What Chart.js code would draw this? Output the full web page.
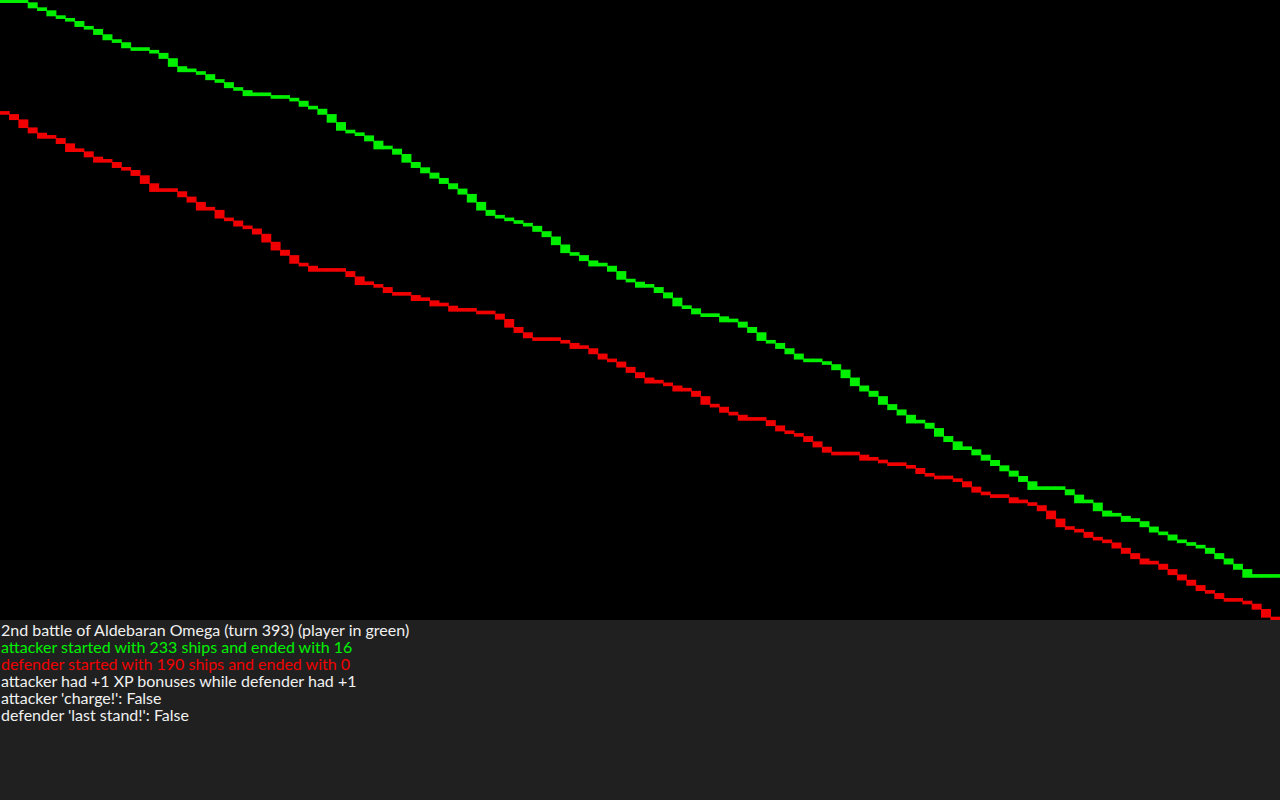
<!DOCTYPE html>
<html>
<head>
<meta charset="utf-8">
<script src="https://cdn.jsdelivr.net/npm/chart.js@4"></script>
<style>
  body { margin: 0; background: #000; width: 1280px; height: 800px; overflow: hidden; }
  #chartBox { width: 1280px; height: 620px; background: #000; }
  #info { width: 1280px; height: 179px; padding-top: 1px; background: #202020; font-family: Lato, sans-serif; font-size: 16px; line-height: 17px; color: #f0f0f0; }
  #info div { padding-left: 1px; white-space: pre; }
</style>
</head>
<body>
<div id="chartBox"><canvas id="battleChart" width="1280" height="620"></canvas></div>
<div id="info"></div>
<script>
// ships left at the start of each round, last entry = ships at the end
const attacker = [
  233, 232, 232, 232, 230, 229, 227, 226, 225, 223,
  222, 220, 218, 217, 215, 214, 214, 213, 211, 208,
  206, 206, 205, 203, 202, 200, 199, 197, 197, 197,
  196, 196, 195, 193, 192, 190, 187, 184, 183, 182,
  180, 177, 177, 175, 172, 170, 168, 166, 164, 162,
  160, 157, 154, 152, 151, 150, 149, 148, 146, 144,
  141, 138, 137, 135, 133, 133, 131, 128, 127, 125,
  125, 123, 121, 118, 117, 115, 114, 114, 112, 112,
  110, 108, 105, 104, 102, 100, 98, 97, 97, 96,
  94, 91, 88, 86, 84, 81, 79, 77, 74, 74,
  72, 69, 67, 64, 64, 62, 60, 58, 56, 54,
  52, 49, 49, 49, 49, 47, 44, 44, 41, 39,
  39, 37, 37, 35, 33, 32, 30, 29, 28, 27,
  25, 23, 21, 19, 16, 16, 16, 16
];
const defender = [
  190, 190, 188, 185, 183, 181, 181, 179, 176, 176,
  174, 172, 172, 170, 169, 167, 164, 161, 161, 161,
  159, 157, 154, 154, 151, 150, 148, 147, 145, 142,
  139, 137, 134, 133, 131, 131, 131, 131, 129, 126,
  126, 125, 123, 122, 122, 120, 120, 118, 118, 116,
  116, 116, 115, 115, 113, 110, 108, 106, 105, 105,
  105, 104, 102, 102, 100, 98, 97, 95, 93, 91,
  89, 89, 88, 86, 86, 84, 81, 80, 78, 77,
  75, 75, 75, 73, 71, 70, 69, 67, 65, 63,
  62, 62, 62, 60, 60, 59, 58, 58, 57, 55,
  54, 53, 53, 52, 50, 48, 47, 46, 46, 44,
  44, 43, 41, 38, 35, 34, 33, 31, 30, 29,
  27, 25, 23, 21, 21, 19, 17, 15, 13, 11,
  10, 8, 7, 7, 6, 4, 1, 0
];
const rounds = attacker.slice(1).map((_, i) => i + 1);

const battleName = "2nd battle of Aldebaran Omega";
const turn = 393;
const xpAttacker = 1;
const xpDefender = 1;
const attackerCharge = "False";
const defenderLastStand = "False";

const green = "rgb(0, 240, 0)";
const red = "rgb(240, 0, 0)";

// each round is a block from the ships left after it up to the ships before it
function steps(ships) {
  return rounds.map((r, i) => [ships[i + 1], ships[i]]);
}

var ctx = document.getElementById("battleChart").getContext("2d");
var battleChart = new Chart(ctx, {
  type: "bar",
  data: {
    labels: rounds,
    datasets: [
      {
        data: steps(attacker),
        backgroundColor: green,
        borderWidth: 0,
        grouped: false,
        barPercentage: 1,
        categoryPercentage: 1,
        minBarLength: 3,
      },
      {
        data: steps(defender),
        backgroundColor: red,
        borderWidth: 0,
        grouped: false,
        barPercentage: 1,
        categoryPercentage: 1,
        minBarLength: 3,
      },
    ],
  },
  options: {
    responsive: false,
    animation: false,
    devicePixelRatio: 1,
    layout: { padding: 0 },
    plugins: {
      legend: { display: false },
      tooltip: { enabled: false },
    },
    scales: {
      x: { display: false, offset: true },
      y: { display: false, min: 0, max: attacker[0] },
    },
  },
});

const lines = [
  [battleName + " (turn " + turn + ") (player in green)", "#f0f0f0"],
  ["attacker started with " + attacker[0] + " ships and ended with " + attacker[attacker.length - 1], green],
  ["defender started with " + defender[0] + " ships and ended with " + defender[defender.length - 1], red],
  ["attacker had +" + xpAttacker + " XP bonuses while defender had +" + xpDefender, "#f0f0f0"],
  ["attacker 'charge!': " + attackerCharge, "#f0f0f0"],
  ["defender 'last stand!': " + defenderLastStand, "#f0f0f0"],
];
const info = document.getElementById("info");
lines.forEach(([text, color]) => {
  const d = document.createElement("div");
  d.textContent = text;
  d.style.color = color;
  info.appendChild(d);
});
</script>
</body>
</html>
